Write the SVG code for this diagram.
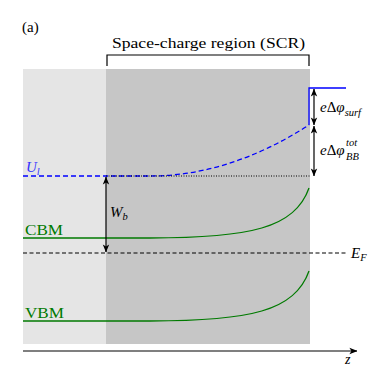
<svg xmlns="http://www.w3.org/2000/svg" width="386" height="373" viewBox="0 0 386 373">
<style>
.t{font-family:'Liberation Serif','DejaVu Serif','Times New Roman',serif}
.m{font-style:italic}
.g{fill:#007a00}
.ax{stroke:#000;stroke-width:1.2;fill:none}
</style>
<defs>
<marker id="ah" viewBox="0 0 10 10" refX="9.5" refY="5" markerWidth="8" markerHeight="8" markerUnits="userSpaceOnUse" orient="auto-start-reverse">
<path d="M0,1 L10,5 L0,9 L2.5,5 z" fill="#000"/>
</marker>
</defs>
<rect width="386" height="373" fill="#fff"/>
<g id="bulk"><rect x="23" y="69" width="83" height="275" fill="#e5e5e5"/></g>
<g id="scr"><rect x="106" y="69" width="204" height="275" fill="#c6c6c6"/></g>
<g class="t">
<text x="22" y="32" font-size="15">(a)</text>
<g id="bracket">
<path d="M107,66 V55 H309 V66" class="ax"/>
<text x="112" y="48" font-size="15.5" textLength="193" lengthAdjust="spacingAndGlyphs">Space-charge region (SCR)</text>
</g>
<g id="connectors">
<path d="M23,176 H150 Q229.5,176 309,125" fill="none" stroke="#0000ff" stroke-width="1.3" stroke-dasharray="5,3"/>
<path d="M309,125 V88 H346" fill="none" stroke="#0000ff" stroke-width="1.3"/>
<line x1="106" y1="176" x2="310" y2="176" stroke="#000" stroke-width="1" stroke-dasharray="1,1.5"/>
<line x1="23" y1="253" x2="346" y2="253" stroke="#000" stroke-width="1.1" stroke-dasharray="4,2.5"/>
<path d="M23,238 H150 C250,238 295,228 309,188" fill="none" stroke="#007a00" stroke-width="1.3"/>
<path d="M23,321 H150 C250,321 295,311 309,271" fill="none" stroke="#007a00" stroke-width="1.3"/>
<line x1="314" y1="89" x2="314" y2="125" class="ax" marker-start="url(#ah)" marker-end="url(#ah)"/>
<line x1="314" y1="126" x2="314" y2="176" class="ax" marker-start="url(#ah)" marker-end="url(#ah)"/>
<line x1="106" y1="177" x2="106" y2="252" class="ax" marker-start="url(#ah)" marker-end="url(#ah)"/>
<line x1="23" y1="351" x2="357" y2="351" class="ax" marker-end="url(#ah)"/>
</g>
<g id="labels">
<text x="26" y="172" font-size="15" class="m" fill="#3333ff">U<tspan font-size="10.5" dy="3">l</tspan></text>
<text x="25" y="235" font-size="15" class="g" textLength="38" lengthAdjust="spacingAndGlyphs">CBM</text>
<text x="25" y="318" font-size="15" class="g" textLength="39" lengthAdjust="spacingAndGlyphs">VBM</text>
<text x="351" y="258" font-size="15" class="m">E<tspan font-size="10.5" dy="3">F</tspan></text>
<text x="110" y="217" font-size="15" class="m">W<tspan font-size="10.5" dy="3">b</tspan></text>
<text x="320" y="112" font-size="15" class="m">e<tspan font-style="normal">Δ</tspan>φ<tspan font-size="10.5" dy="4">surf</tspan></text>
<text x="320" y="155" font-size="15" class="m">e<tspan font-style="normal">Δ</tspan>φ</text>
<text x="346" y="146" font-size="10.5" class="m">tot</text>
<text x="346" y="160" font-size="10.5" class="m">BB</text>
<text x="345" y="364" font-size="14" class="m">z</text>
</g>
</g>
</svg>
